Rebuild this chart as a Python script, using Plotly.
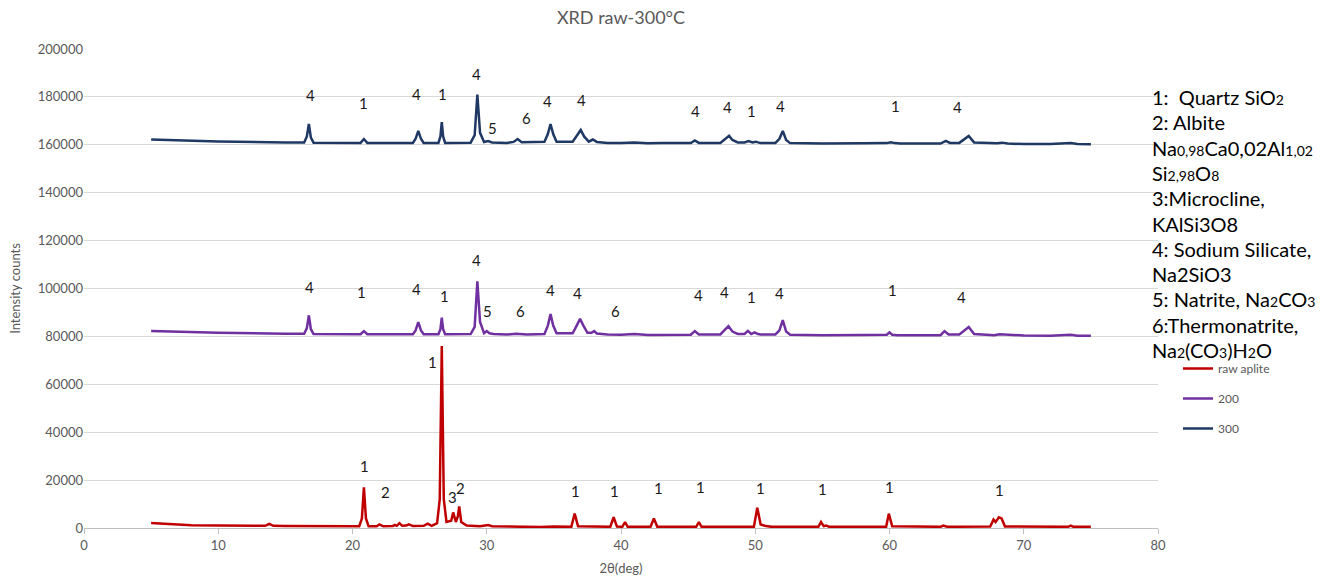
import plotly.graph_objects as go

# ---------------- data ----------------
raw_x = [5.0, 5.5, 6.5, 7.3, 8.0, 10.0, 12.0, 13.5, 13.8, 14.1, 15.0, 18.0, 20.5, 20.7, 20.85, 21.0, 21.2,
         21.8, 22.0, 22.3, 23.0, 23.15, 23.3, 23.5, 23.7, 24.0, 24.2, 24.5, 25.3, 25.6, 25.9, 26.3, 26.5,
         26.65, 26.8, 27.0, 27.35, 27.5, 27.7, 27.85, 27.95, 28.1, 28.5, 29.5, 30.1, 30.4, 31.0, 32.0, 34.0,
         35.0, 36.3, 36.55, 36.8, 39.2, 39.45, 39.7, 40.1, 40.3, 40.5, 42.2, 42.45, 42.7, 45.6, 45.8, 46.0,
         49.9, 50.15, 50.4, 50.8, 51.2, 54.7, 54.9, 55.1, 55.3, 55.5, 59.75, 59.95, 60.2, 63.8, 64.0, 64.3,
         67.5, 67.75, 67.9, 68.15, 68.35, 68.6, 73.3, 73.5, 73.7, 75.0]
raw_y = [2100, 1900, 1600, 1200, 1100, 1000, 900, 900, 1700, 900, 800, 600, 700, 4000, 17000, 4000, 700,
         700, 1500, 700, 800, 1300, 900, 2000, 900, 1000, 1500, 800, 900, 1800, 900, 2000, 12000,
         76000, 12000, 2500, 3000, 6500, 2500, 5000, 9000, 2500, 1000, 700, 1200, 700, 600, 500, 400,
         600, 500, 6000, 700, 500, 4500, 600, 500, 2500, 500, 500, 4000, 500, 500, 2500, 500,
         500, 8500, 1500, 800, 500, 500, 2500, 800, 1000, 500, 500, 6000, 700, 500, 1000, 500,
         600, 3500, 2500, 4500, 4000, 600, 500, 1000, 500, 500]

t200_x = [5.0, 7.0, 10.0, 15.0, 16.4, 16.6, 16.75, 16.9, 17.1, 20.6, 20.85, 21.1, 24.5, 24.7, 24.9, 25.1,
          25.3, 26.4, 26.55, 26.65, 26.75, 26.9, 28.8, 29.1, 29.3, 29.5, 29.8, 30.0, 30.2, 30.5, 31.5, 32.2,
          33.0, 34.3, 34.55, 34.75, 34.95, 35.2, 36.4, 36.7, 36.95, 37.2, 37.5, 37.8, 38.0, 38.2, 39.0, 40.0,
          41.0, 42.0, 43.0, 45.2, 45.5, 45.8, 47.4, 47.8, 48.0, 48.3, 48.7, 49.2, 49.45, 49.7, 49.95, 50.2,
          50.4, 51.5, 51.8, 52.05, 52.3, 52.6, 55.0, 58.0, 59.8, 60.0, 60.2, 60.6, 63.8, 64.1, 64.4, 65.2,
          65.6, 65.9, 66.3, 67.5, 67.8, 68.2, 70.0, 72.0, 73.5, 74.0, 75.0]
t200_y = [82300, 81900, 81500, 81100, 81100, 83500, 88800, 83000, 81000, 80900, 82200, 80900, 80900, 82500, 86000, 82500,
          80900, 80900, 83000, 87800, 83000, 80900, 81000, 84000, 103000, 86000, 81300, 82200, 81300, 81000, 80800, 81100,
          80800, 81000, 84500, 89300, 84500, 81300, 81300, 84500, 87300, 84500, 81500, 81500, 82200, 81200, 80800, 80700,
          81000, 80600, 80700, 80700, 82200, 80800, 80800, 83000, 84300, 82000, 81000, 81000, 82300, 81000, 81700, 81000,
          80800, 80800, 82500, 86800, 82000, 80700, 80500, 80600, 80700, 81700, 80700, 80500, 80500, 82200, 80800, 80800,
          82700, 83900, 81000, 80600, 80500, 80900, 80400, 80300, 80700, 80300, 80300]

t300_x = [5.0, 7.0, 10.0, 15.0, 16.4, 16.6, 16.75, 16.9, 17.1, 20.6, 20.85, 21.1, 24.5, 24.7, 24.9, 25.1,
          25.3, 26.4, 26.55, 26.65, 26.75, 26.9, 28.8, 29.1, 29.3, 29.5, 29.8, 30.1, 30.4, 31.5, 32.0, 32.3,
          32.6, 33.5, 34.3, 34.55, 34.75, 34.95, 35.2, 36.4, 36.75, 37.0, 37.25, 37.6, 37.9, 38.2, 39.0, 40.0,
          41.0, 42.0, 43.0, 45.2, 45.5, 45.8, 47.4, 47.8, 48.05, 48.3, 48.7, 49.2, 49.5, 49.8, 50.05, 50.2,
          50.4, 51.5, 51.8, 52.05, 52.3, 52.6, 55.0, 58.0, 59.8, 60.1, 60.4, 60.8, 63.8, 64.2, 64.5, 65.2,
          65.6, 65.9, 66.3, 68.0, 68.4, 68.8, 70.0, 72.0, 73.5, 74.0, 75.0]
t300_y = [162200, 161800, 161400, 161000, 161000, 163500, 168700, 163000, 160900, 160800, 162400, 160800, 160800, 162500, 165800, 162500,
          160800, 160800, 163500, 169500, 163500, 160800, 160900, 164000, 181000, 165000, 161200, 161600, 161000, 160800, 161200, 162400,
          161100, 161200, 161300, 164500, 168700, 164500, 161300, 161300, 164000, 166200, 163500, 161300, 162200, 161200, 160800, 160700,
          161000, 160600, 160700, 160700, 161800, 160800, 160800, 162500, 163800, 162000, 161000, 161000, 161600, 161000, 161300, 161000,
          160800, 160800, 162500, 165800, 162000, 160700, 160500, 160600, 160700, 161100, 160700, 160500, 160500, 161600, 160800, 160800,
          162500, 163700, 161000, 160600, 160900, 160500, 160300, 160300, 160700, 160300, 160200]

# peak labels (x in deg, y in counts)
lab_raw_x = [20.86, 22.43, 25.93, 27.42, 28.02, 36.59, 39.49, 42.77, 45.9, 50.37, 54.99, 59.99, 68.18]
lab_raw_y = [25900, 15000, 69300, 12900, 16700, 15400, 15400, 16700, 17100, 16700, 16300, 17100, 15900]
lab_raw_t = ["1", "2", "1", "3", "2", "1", "1", "1", "1", "1", "1", "1", "1"]

lab_200_x = [16.77, 20.64, 24.74, 26.83, 29.21, 30.03, 32.49, 34.72, 36.74, 39.57, 45.75, 47.69, 49.7, 51.79, 60.21, 65.35]
lab_200_y = [100600, 98500, 99800, 96900, 111900, 90600, 90600, 99400, 98100, 90600, 97300, 98500, 96500, 98100, 99400, 96500]
lab_200_t = ["4", "1", "4", "1", "4", "5", "6", "4", "4", "6", "4", "4", "1", "4", "1", "4"]

lab_300_x = [16.84, 20.79, 24.74, 26.68, 29.21, 30.4, 32.94, 34.5, 37.03, 45.53, 47.91, 49.7, 51.86, 60.43, 65.05]
lab_300_y = [180800, 177500, 181200, 181200, 189600, 167000, 171200, 178300, 178700, 174100, 175800, 174100, 176200, 176200, 175800]
lab_300_t = ["4", "1", "4", "1", "4", "5", "6", "4", "4", "4", "4", "1", "4", "1", "4"]

S = "<span style='font-size:14px'>%s</span>"
phase_lines = [
    "1:  Quartz SiO" + S % "2",
    "2: Albite",
    "Na" + S % "0,98" + "Ca0,02Al" + S % "1,02",
    "Si" + S % "2,98" + "O" + S % "8",
    "3:Microcline,",
    "KAlSi3O8",
    "4: Sodium Silicate,",
    "Na2SiO3",
    "5: Natrite, Na" + S % "2" + "CO" + S % "3",
    "6:Thermonatrite,",
    "Na" + S % "2" + "(CO" + S % "3" + ")H" + S % "2" + "O",
]

# ---------------- figure ----------------
W, H = 1325, 579
ml, mr, mt, mb = 84, 167, 49, 51
pw, ph = W - ml - mr, H - mt - mb

fig = go.Figure()
fig.add_trace(go.Scatter(x=raw_x, y=raw_y, mode="lines", name="raw aplite",
                         line=dict(color="#c00000", width=2.5), legendgroup="a"))
fig.add_trace(go.Scatter(x=t200_x, y=t200_y, mode="lines", name="200",
                         line=dict(color="#7030a0", width=2.5), legendgroup="b"))
fig.add_trace(go.Scatter(x=t300_x, y=t300_y, mode="lines", name="300",
                         line=dict(color="#1f3864", width=2.5), legendgroup="c"))

ann = []
for xs, ys, ts in [(lab_raw_x, lab_raw_y, lab_raw_t), (lab_200_x, lab_200_y, lab_200_t), (lab_300_x, lab_300_y, lab_300_t)]:
    for x, y, t in zip(xs, ys, ts):
        ann.append(dict(x=x, y=y, text=t, showarrow=False, xref="x", yref="y",
                        font=dict(family="Lato", size=15, color="#1a1a1a")))

top_px = 97
for i, line in enumerate(phase_lines):
    ypx = top_px + i * 25.3
    ann.append(dict(x=(1150 - ml) / pw, y=1 - (ypx - mt) / ph, xref="paper", yref="paper", text=line,
                    showarrow=False, xanchor="left", yanchor="middle",
                    font=dict(family="Lato", size=20, color="#000000")))

fig.update_layout(
    width=W, height=H,
    margin=dict(l=ml, r=mr, t=mt, b=mb, autoexpand=False),
    paper_bgcolor="white", plot_bgcolor="white",
    title=dict(text="XRD raw-300°C", x=(ml + pw / 2) / W, xanchor="center", y=1 - 18 / H, yanchor="middle",
               font=dict(family="Lato", size=18, color="#595959")),
    font=dict(family="Lato", color="#595959"),
    showlegend=True,
    legend=dict(x=(1178 - ml) / pw, y=1 - (354 - mt) / ph, xanchor="left", yanchor="top",
                font=dict(family="Lato", size=12, color="#595959"), tracegroupgap=11,
                traceorder="grouped", bgcolor="rgba(0,0,0,0)"),
    annotations=ann,
)
fig.update_xaxes(range=[0, 80], tickmode="linear", tick0=0, dtick=10, showgrid=False, zeroline=False,
                 automargin=False,
                 showline=True, linecolor="#bfbfbf", linewidth=1, ticks="outside", ticklen=5, tickcolor="#bfbfbf",
                 tickfont=dict(family="Lato", size=13, color="#595959"),
                 title=dict(text="2θ(deg)", font=dict(family="Lato", size=13, color="#595959"), standoff=12))
fig.update_yaxes(range=[0, 200000], tickmode="linear", tick0=0, dtick=20000, showgrid=True, gridcolor="#d9d9d9",
                 automargin=False,
                 gridwidth=1, zeroline=False, showline=False, ticks="", tickformat="d",
                 tickfont=dict(family="Lato", size=13, color="#595959"),
                 title=dict(text="Intensity counts", font=dict(family="Lato", size=13, color="#595959"), standoff=14))

fig.write_html("out.html")
